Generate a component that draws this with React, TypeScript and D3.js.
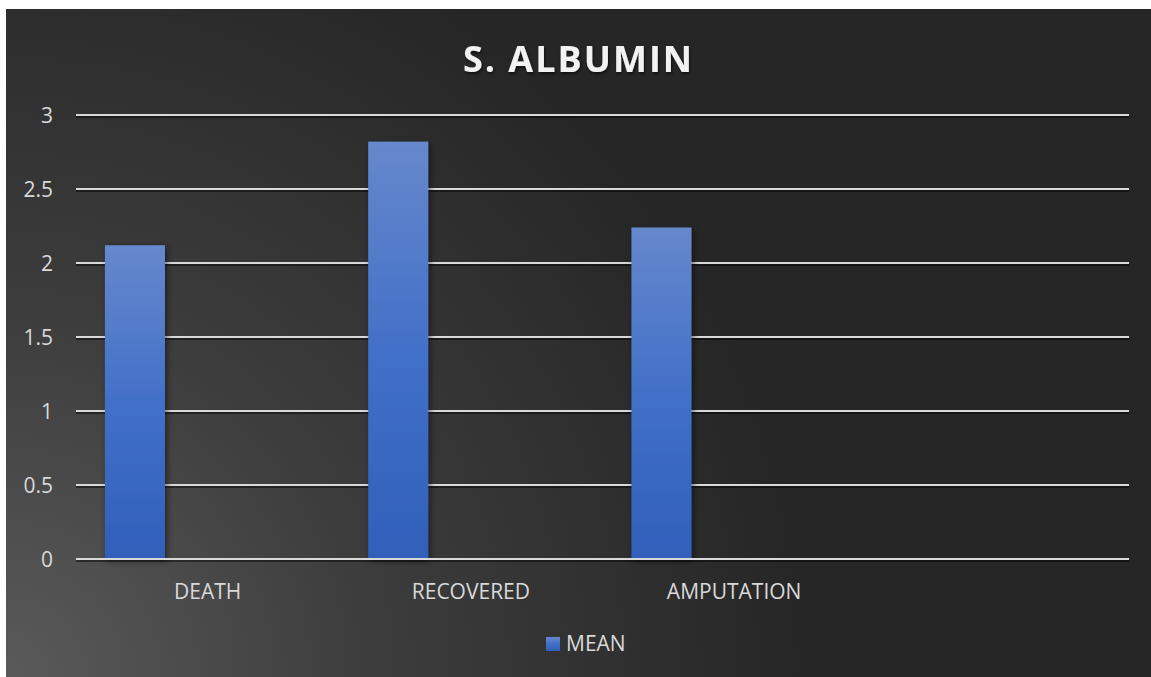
import React from "react";
import * as d3 from "d3";

// Chart data
const categories = ["DEATH", "RECOVERED", "AMPUTATION", ""];
const meanValues = [2.12, 2.82, 2.24];
const yTicks = [0, 0.5, 1, 1.5, 2, 2.5, 3];
const seriesName = "MEAN";
const chartTitle = "S. ALBUMIN";

const W = 1151;
const H = 677;
const frame = { x: 6, y: 9, w: 1145, h: 668 };
const plot = { left: 76, right: 1129, top: 115, bottom: 559 };
const FONT = "'Open Sans', 'Liberation Sans', sans-serif";

function GridLine({ yPos }: { yPos: number }) {
  return (
    <g>
      <line
        x1={plot.left}
        x2={plot.right}
        y1={yPos + 2}
        y2={yPos + 2}
        stroke="#000"
        strokeOpacity={0.45}
        strokeWidth={2}
      />
      <line
        x1={plot.left}
        x2={plot.right}
        y1={yPos}
        y2={yPos}
        stroke="#d9d9d9"
        strokeWidth={2}
      />
    </g>
  );
}

export default function App() {
  const x = d3
    .scaleBand<string>()
    .domain(categories.map((c, i) => `${i}`))
    .range([plot.left, plot.right]);
  const y = d3.scaleLinear().domain([0, 3]).range([plot.bottom, plot.top]);
  const bw = x.bandwidth();
  const barOffset = bw * 0.11;
  const barWidth = bw * 0.228;

  return (
    <svg
      width={W}
      height={H}
      style={{ position: "absolute", left: 0, top: 0, display: "block" }}
    >
      <defs>
        <radialGradient
          id="bgGrad"
          gradientUnits="userSpaceOnUse"
          cx={frame.x}
          cy={H}
          r={800}
        >
          <stop offset="0" stopColor="#5a5a5a" />
          <stop offset="0.45" stopColor="#3d3d3d" />
          <stop offset="1" stopColor="#262626" />
        </radialGradient>
        <linearGradient id="barGrad" x1="0" y1="0" x2="0" y2="1">
          <stop offset="0" stopColor="#6688cc" />
          <stop offset="0.5" stopColor="#4270c8" />
          <stop offset="1" stopColor="#2f5fba" />
        </linearGradient>
        <filter id="barShadow" x="-20%" y="-10%" width="150%" height="120%">
          <feDropShadow dx="2" dy="2" stdDeviation="3" floodColor="#000" floodOpacity="0.5" />
        </filter>
        <filter id="textShadow" x="-10%" y="-20%" width="120%" height="150%">
          <feDropShadow dx="1" dy="2" stdDeviation="1.5" floodColor="#000" floodOpacity="0.6" />
        </filter>
      </defs>

      <rect x={0} y={0} width={W} height={H} fill="#ffffff" />
      <rect x={frame.x} y={frame.y} width={frame.w} height={frame.h} fill="url(#bgGrad)" />

      <text
        x={(frame.x + W) / 2}
        y={72}
        textAnchor="middle"
        fill="#f2f2f2"
        fontFamily={FONT}
        fontWeight={700}
        fontSize={36}
        letterSpacing={2}
        filter="url(#textShadow)"
      >
        {chartTitle}
      </text>

      {/* horizontal gridlines and value labels */}
      {yTicks.map((t) => (
        <g key={t}>
          {t !== 0 && <GridLine yPos={y(t)} />}
          <text
            x={53}
            y={y(t)}
            dy="0.36em"
            textAnchor="end"
            fill="#d9d9d9"
            fontFamily={FONT}
            fontSize={21}
          >
            {t}
          </text>
        </g>
      ))}

      {/* bars */}
      {meanValues.map((v, i) => (
        <rect
          key={i}
          x={(x(`${i}`) as number) + barOffset}
          y={y(v)}
          width={barWidth}
          height={y(0) - y(v)}
          fill="url(#barGrad)"
          filter="url(#barShadow)"
        />
      ))}

      {/* zero baseline drawn above bars */}
      <GridLine yPos={y(0)} />

      {/* category labels */}
      {categories.map((c, i) => (
        <text
          key={i}
          x={(x(`${i}`) as number) + bw / 2}
          y={599}
          textAnchor="middle"
          fill="#d9d9d9"
          fontFamily={FONT}
          fontSize={21}
        >
          {c}
        </text>
      ))}

      {/* legend */}
      <rect x={546} y={637} width={14} height={14} fill="url(#barGrad)" />
      <text x={566} y={651} fill="#d9d9d9" fontFamily={FONT} fontSize={21}>
        {seriesName}
      </text>
    </svg>
  );
}
